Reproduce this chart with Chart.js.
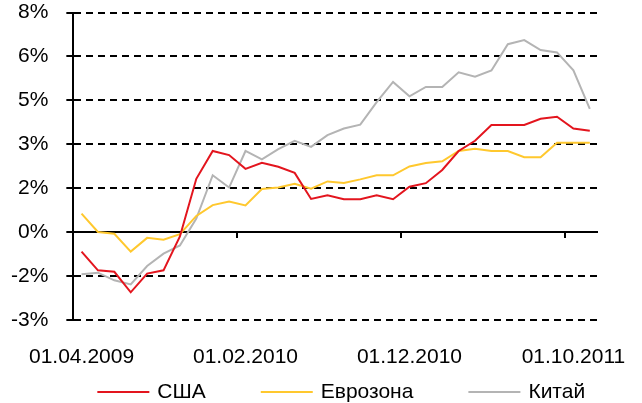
<!DOCTYPE html>
<html>
<head>
<meta charset="utf-8">
<script src="https://cdn.jsdelivr.net/npm/chart.js@4"></script>
<style>
  body { margin: 0; background: #fff; }
  #wrap { width: 642px; height: 403px; position: relative; }
</style>
</head>
<body>
<div id="wrap"><canvas id="grafico"></canvas></div>
<script>
// Месяцы (01.04.2009 - 01.11.2011)
const meses = [
  '01.04.2009', '01.05.2009', '01.06.2009', '01.07.2009', '01.08.2009', '01.09.2009',
  '01.10.2009', '01.11.2009', '01.12.2009', '01.01.2010', '01.02.2010', '01.03.2010',
  '01.04.2010', '01.05.2010', '01.06.2010', '01.07.2010', '01.08.2010', '01.09.2010',
  '01.10.2010', '01.11.2010', '01.12.2010', '01.01.2011', '01.02.2011', '01.03.2011',
  '01.04.2011', '01.05.2011', '01.06.2011', '01.07.2011', '01.08.2011', '01.09.2011',
  '01.10.2011', '01.11.2011'
];

// Инфляция, % г/г
const usa = [
  -0.67, -1.31, -1.36, -2.06, -1.42, -1.31, -0.15, 1.82, 2.77, 2.63, 2.16, 2.37,
  2.23, 2.02, 1.13, 1.26, 1.12, 1.12, 1.26, 1.12, 1.55, 1.67, 2.12, 2.77,
  3.12, 3.66, 3.66, 3.66, 3.87, 3.94, 3.54, 3.46
];
const eurozona = [
  0.63, 0.0, -0.06, -0.67, -0.2, -0.26, -0.07, 0.55, 0.92, 1.04, 0.91, 1.47,
  1.52, 1.65, 1.48, 1.73, 1.68, 1.80, 1.94, 1.94, 2.24, 2.36, 2.42, 2.77,
  2.85, 2.77, 2.77, 2.56, 2.56, 3.05, 3.05, 3.05
];
const kitai = [
  -1.44, -1.39, -1.65, -1.79, -1.16, -0.74, -0.46, 0.46, 1.94, 1.52, 2.77, 2.48,
  2.83, 3.12, 2.91, 3.31, 3.54, 3.67, 4.44, 5.13, 4.64, 4.96, 4.96, 5.46,
  5.31, 5.52, 6.42, 6.56, 6.22, 6.14, 5.53, 4.21
];

// Шкала Y: -3 .. 7.5, шаг 1.5 (подписи округлены как в Excel)
const yMin = -3;
const yMax = 7.5;
const yPaso = 1.5;
const cadaN = 10; // подпись каждые 10 месяцев

const fuente = "Arial, 'Liberation Sans', sans-serif";

function redondear(v) {
  return Math.sign(v) * Math.round(Math.abs(v));
}

// Ось X на нуле: линия сетки 0 уже сплошная, добавляем риски
const marcasCero = {
  id: 'marcasCero',
  afterDatasetsDraw(chart) {
    const x = chart.scales.x;
    const y = chart.scales.y;
    const ctx = chart.ctx;
    const y0 = y.getPixelForValue(0);
    const mitad = (x.getPixelForValue(1) - x.getPixelForValue(0)) / 2;
    ctx.save();
    ctx.strokeStyle = '#000';
    ctx.lineWidth = 2;
    ctx.beginPath();
    for (let i = cadaN; i < meses.length; i += cadaN) {
      const px = Math.round(x.getPixelForValue(i) - mitad);
      ctx.moveTo(px, y0);
      ctx.lineTo(px, y0 + 6);
    }
    ctx.stroke();
    ctx.restore();
  }
};

// Легенда внизу (линия + подпись), с широкими промежутками как в оригинале
const leyenda = {
  id: 'leyenda',
  afterDraw(chart) {
    const ctx = chart.ctx;
    const area = chart.chartArea;
    const yc = 392;
    let x = area.left + 24;
    ctx.save();
    ctx.font = '21px ' + fuente;
    ctx.textBaseline = 'middle';
    ctx.fillStyle = '#000';
    chart.data.datasets.forEach(ds => {
      ctx.strokeStyle = ds.borderColor;
      ctx.lineWidth = 2;
      ctx.beginPath();
      ctx.moveTo(x, yc);
      ctx.lineTo(x + 52, yc);
      ctx.stroke();
      x += 52 + 8;
      ctx.fillText(ds.label, x, yc);
      x += ctx.measureText(ds.label).width + 55;
    });
    ctx.restore();
  }
};

const ctx = document.getElementById('grafico').getContext('2d');
new Chart(ctx, {
  type: 'line',
  data: {
    labels: meses,
    datasets: [
      { label: 'США', data: usa, borderColor: '#e3151e', backgroundColor: '#e3151e' },
      { label: 'Еврозона', data: eurozona, borderColor: '#ffc82e', backgroundColor: '#ffc82e' },
      { label: 'Китай', data: kitai, borderColor: '#b4b4b4', backgroundColor: '#b4b4b4' }
    ]
  },
  options: {
    responsive: true,
    maintainAspectRatio: false,
    animation: false,
    layout: { padding: { left: 11, right: 44, top: 4, bottom: 33 } },
    elements: {
      line: { borderWidth: 2, tension: 0 },
      point: { radius: 0 }
    },
    plugins: {
      tooltip: { enabled: false },
      legend: { display: false }
    },
    scales: {
      x: {
        offset: true,
        grid: {
          display: true,
          drawOnChartArea: false,
          drawTicks: true,
          tickLength: 25,
          color: 'rgba(0,0,0,0)',
          tickColor: 'rgba(0,0,0,0)'
        },
        border: { display: false },
        ticks: {
          autoSkip: false,
          maxRotation: 0,
          padding: 0,
          color: '#000',
          font: { family: fuente, size: 21 },
          callback: (v, i) => (i % cadaN === 0 ? meses[i] : '')
        }
      },
      y: {
        min: yMin,
        max: yMax,
        grid: {
          color: '#000',
          lineWidth: 2,
          tickLength: 25,
          tickColor: '#000',
          tickBorderDash: [0, 18, 7, 60]
        },
        border: {
          display: true,
          color: '#000',
          width: 2,
          dash: c => (c.tick && c.tick.value !== 0 ? [7, 5] : [])
        },
        ticks: {
          stepSize: yPaso,
          autoSkip: false,
          padding: 0,
          color: '#000',
          font: { family: fuente, size: 21 },
          callback: v => redondear(v) + '%'
        }
      }
    }
  },
  plugins: [marcasCero, leyenda]
});
</script>
</body>
</html>
